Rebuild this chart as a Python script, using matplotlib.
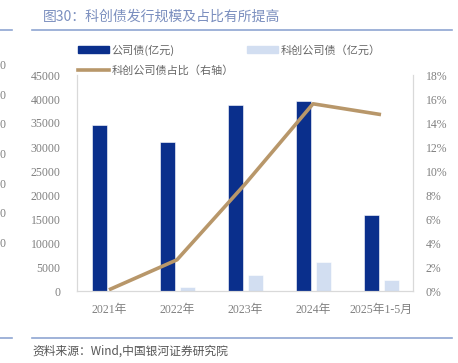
import matplotlib
matplotlib.use("Agg")
import matplotlib.pyplot as plt
import numpy as np
from matplotlib.lines import Line2D

plt.rcParams["font.family"] = ["Noto Sans CJK SC", "DejaVu Sans"]

years = ["2021年", "2022年", "2023年", "2024年", "2025年1-5月"]
corp_bond = [34500, 31000, 38700, 39600, 15900]       # 公司债(亿元)
stb_bond = [30, 750, 3300, 6100, 2300]                # 科创公司债(亿元)
stb_share = [0.1, 2.6, 8.9, 15.6, 14.7]               # 科创公司债占比(%)

DARK, LIGHT, GOLD, GREY, RULE = "#0a2f8c", "#d2def1", "#b8976a", "#808080", "#8fa6d2"
TICKF = ["Liberation Serif", "Noto Sans CJK SC"]

W, H = 458, 363
fig = plt.figure(figsize=(W / 100, H / 100), dpi=100)
ax = fig.add_axes([77 / W, 1 - 291 / H, (413 - 77) / W, (291 - 75) / H])
ax2 = ax.twinx()

x = np.arange(len(years))
ax.bar(x - 0.14, corp_bond, width=0.22, color=DARK, edgecolor="white", lw=0.4, zorder=2)
ax.bar(x + 0.15, stb_bond, width=0.22, color=LIGHT, edgecolor="white", lw=0.4, zorder=2)
ax2.plot(x, stb_share, color=GOLD, lw=2.6, solid_capstyle="butt", zorder=3)

ax.set_xlim(-0.47, len(years) - 0.53)
ax.set_ylim(0, 45000)
ax.set_yticks(np.arange(0, 45001, 5000))
ax2.set_ylim(0, 18)
ax2.set_yticks(np.arange(0, 19, 2))
ax2.set_yticklabels([f"{v}%" for v in range(0, 19, 2)])
ax.set_xticks(x)
ax.set_xticklabels(years)

for a in (ax, ax2):
    a.tick_params(length=0, colors=GREY, labelsize=8.5)
    for lab in a.get_yticklabels() + a.get_xticklabels():
        lab.set_family(TICKF)
    a.spines["top"].set_visible(False)
    a.patch.set_visible(False)
    for sp in ["left", "right", "bottom"]:
        a.spines[sp].set_color("#d9d9d9")
ax.tick_params(axis="y", pad=12)
ax.tick_params(axis="x", pad=9)
ax2.tick_params(axis="y", pad=9)
ax.spines["bottom"].set_color("#d0d0d0")

# legend
h1 = plt.Rectangle((0, 0), 1, 1, color=DARK)
h2 = plt.Rectangle((0, 0), 1, 1, color=LIGHT)
h3 = Line2D([], [], color=GOLD, lw=2.6)
leg_kw = dict(frameon=False, fontsize=8, handlelength=2.8, handleheight=0.55,
              handletextpad=0.25, labelcolor="#666666")
fig.legend([h1, h2], ["公司债(亿元)", "科创公司债（亿元）"], ncol=2, columnspacing=6.5,
           loc="center left", bbox_to_anchor=(68 / W, 1 - 50 / H), **leg_kw)
fig.legend([h3], ["科创公司债占比（右轴）"], loc="center left",
           bbox_to_anchor=(68 / W, 1 - 70 / H), **leg_kw)

# title, rules and source
fig.text(43 / W, 1 - 17 / H, "图30：科创债发行规模及占比有所提高", fontsize=10,
         color="#7b8fbf", va="center")
for yy in (29.5, 337.5):
    fig.add_artist(Line2D([32 / W, 452 / W], [1 - yy / H] * 2, color=RULE, lw=1.2))
    fig.add_artist(Line2D([0, 12 / W], [1 - yy / H] * 2, color=RULE, lw=1.2))
fig.text(32 / W, 1 - 351 / H, "资料来源：Wind,中国银河证券研究院", fontsize=8.5,
         color="#555555", va="center", style="italic")

# clipped tick digits of the neighbouring chart on the left edge
for yy in (66, 96, 125, 155, 185, 214, 244):
    fig.text(-1 / W, 1 - yy / H, "0", fontsize=8.5, color=GREY, va="center",
             family=TICKF)

fig.savefig("out.png", dpi=100, facecolor="white")
